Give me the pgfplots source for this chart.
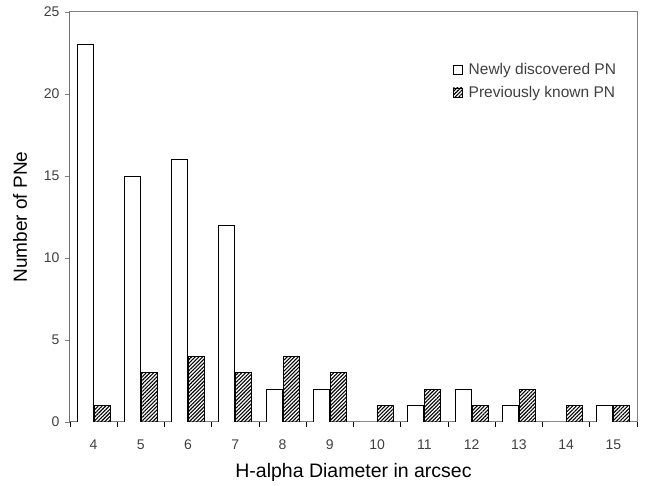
\documentclass[border=0pt]{standalone}
\usepackage{fontspec}
\setmainfont{Liberation Sans}
\usepackage{pgfplots}
\pgfplotsset{compat=1.18}
\usetikzlibrary{patterns.meta}
\definecolor{axgray}{HTML}{808080}
\definecolor{txtgray}{HTML}{404040}
\begin{document}
\begin{tikzpicture}
\begin{axis}[
  at={(0,0)}, anchor=south west,
  scale only axis, width=567pt, height=410pt,
  xmin=-0.5, xmax=11.5, ymin=0, ymax=25,
  ybar=1pt, bar width=16pt,
  xtick={0,1,2,3,4,5,6,7,8,9,10,11},
  xticklabels={4,5,6,7,8,9,10,11,12,13,14,15},
  minor xtick={-0.5,0.5,1.5,2.5,3.5,4.5,5.5,6.5,7.5,8.5,9.5,10.5,11.5},
  ytick={0,5,10,15,20,25},
  xtick pos=bottom, ytick pos=left,
  tick align=outside,
  major x tick style={draw=none},
  major tick length=5pt, minor tick length=5pt,
  every tick/.style={draw=axgray, line width=0.8pt},
  minor x tick style={draw=black, line width=0.8pt},
  axis line style={draw=axgray, line width=1pt},
  /pgf/number format/assume math mode=true,
  tick label style={font=\fontsize{14}{16}\selectfont, text=txtgray},
  xticklabel style={yshift=-9pt},
  yticklabel style={xshift=-2pt},
  xlabel={H-alpha Diameter in arcsec},
  ylabel={Number of PNe},
  xlabel style={font=\fontsize{19.5}{22}\selectfont, at={(rel axis cs:0.5,0)}, anchor=center, yshift=-50pt},
  ylabel style={font=\fontsize{19}{22}\selectfont, at={(rel axis cs:0,0.5)}, anchor=center, yshift=50pt},
  legend style={draw=none, fill=none, at={(0.67,0.885)}, anchor=north west,
    font=\fontsize{15.5}{18}\selectfont, text=txtgray, row sep=6pt,
    /tikz/every odd column/.append style={column sep=4pt}},
  legend cell align=left,
  legend image code/.code={\draw[#1, line width=0.6pt] (0pt,-4.5pt) rectangle (9pt,4.5pt);},
]
\addplot[draw=black, fill=white, line width=0.8pt] coordinates {
  (0,23) (1,15) (2,16) (3,12) (4,2) (5,2) (6,0) (7,1) (8,2) (9,1) (10,0) (11,1)};
\addlegendentry{Newly discovered PN}
\addplot[draw=black, line width=0.8pt, pattern={Lines[angle=45,distance=2.6pt,line width=1.1pt]}] coordinates {
  (0,1) (1,3) (2,4) (3,3) (4,4) (5,3) (6,1) (7,2) (8,1) (9,2) (10,1) (11,1)};
\addlegendentry{Previously known PN}
\draw[black, line width=1pt] (rel axis cs:0,0) -- (rel axis cs:0,1);
\end{axis}
\pgfresetboundingbox
\path[use as bounding box] (-70pt,-64pt) rectangle (578pt,422pt);
\end{tikzpicture}
\end{document}
